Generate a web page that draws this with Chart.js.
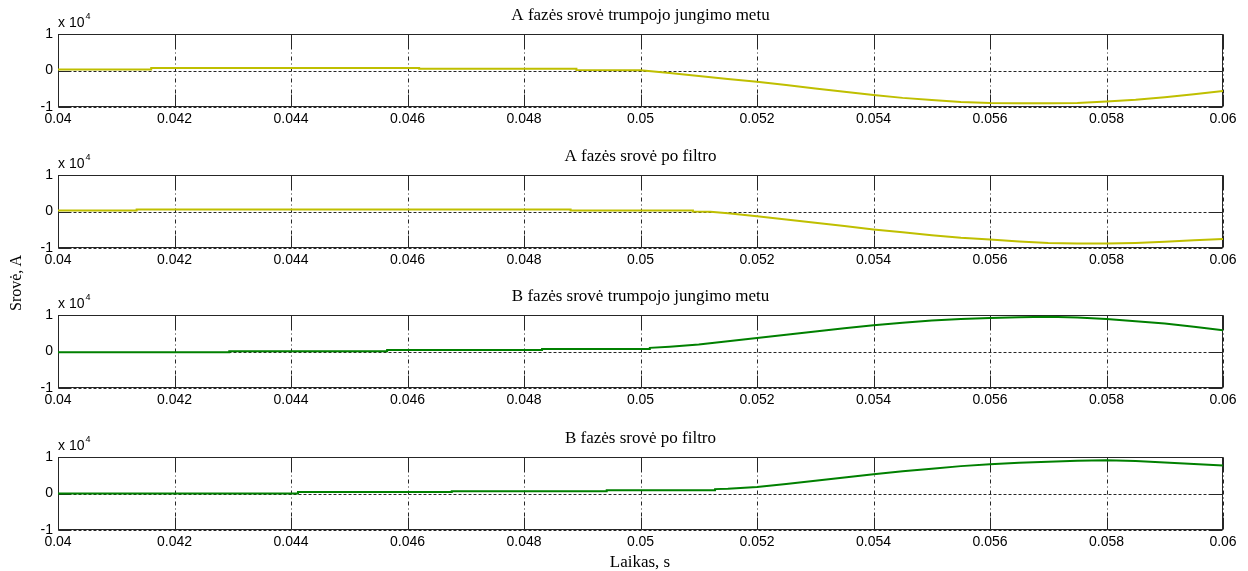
<!DOCTYPE html>
<html>
<head>
<meta charset="utf-8">
<script src="https://cdn.jsdelivr.net/npm/chart.js@4.4.0/dist/chart.umd.min.js"></script>
<style>
  body { margin: 0; background: #fff; }
  #wrap { position: relative; width: 1248px; height: 571px; overflow: hidden; }
  #wrap canvas { position: absolute; left: 0; }
  .mult { position: absolute; left: 58px; font: 14px 'Liberation Sans', Arial, sans-serif; line-height: 14px; color: #000; white-space: nowrap; }
  .mult span { font-size: 9px; position: relative; top: -8px; margin-left: 1px; }
  .ylab { position: absolute; left: 16px; top: 283px; font: 16px 'Liberation Serif', 'Times New Roman', serif; color: #000;
          transform: translate(-50%, -50%) rotate(-90deg); white-space: nowrap; }
  .xlab { position: absolute; left: 640px; top: 562px; font: 17px 'Liberation Serif', 'Times New Roman', serif; color: #000;
          transform: translate(-50%, -50%); white-space: nowrap; }
</style>
</head>
<body>
<div id="wrap">
  <canvas id="c1" width="1306" height="137"></canvas>
  <canvas id="c2" width="1306" height="137"></canvas>
  <canvas id="c3" width="1306" height="137"></canvas>
  <canvas id="c4" width="1306" height="137"></canvas>
  <div class="ylab">Srovė, A</div>
  <div class="xlab">Laikas, s</div>
</div>
<script>
// Trumpojo jungimo srovės (A), skaitytos iš paveikslo

const xTickValues = [0.04, 0.042, 0.044, 0.046, 0.048, 0.05, 0.052, 0.054, 0.056, 0.058, 0.06];
const yTickValues = [-10000, 0, 10000];

const titles = [
    'A fazės srovė trumpojo jungimo metu',
    'A fazės srovė po filtro',
    'B fazės srovė trumpojo jungimo metu',
    'B fazės srovė po filtro'
];

// A fazė, trumpojo jungimo metu
const timeA1 = [0.04, 0.0416, 0.0416, 0.0462, 0.0462, 0.0489, 0.0489, 0.0500, 0.0505, 0.0510, 0.0515, 0.0520,
    0.0525, 0.0530, 0.0535, 0.0540, 0.0545, 0.0550, 0.0555, 0.0560, 0.0565, 0.0570, 0.0575, 0.0580,
    0.0585, 0.0590, 0.0595, 0.0600];
const currA1 = [300, 300, 700, 700, 450, 450, 150, 100, -700, -1500, -2300, -3100,
    -4000, -4900, -5800, -6700, -7500, -8100, -8600, -8900, -9000, -9000, -8900, -8500,
    -8000, -7300, -6500, -5600];

// A fazė, po filtro
const timeA2 = [0.04, 0.04135, 0.04135, 0.0488, 0.0488, 0.0509, 0.0509, 0.0512, 0.0515, 0.0520,
    0.0525, 0.0530, 0.0535, 0.0540, 0.0545, 0.0550, 0.0555, 0.0560, 0.0565, 0.0570, 0.0575, 0.0580,
    0.0585, 0.0590, 0.0595, 0.0600];
const currA2 = [250, 250, 550, 550, 300, 300, 0, -100, -500, -1300,
    -2200, -3100, -4000, -4900, -5700, -6500, -7200, -7700, -8200, -8600, -8800, -8800,
    -8600, -8300, -7900, -7500];

// B fazė, trumpojo jungimo metu
const timeB1 = [0.04, 0.04294, 0.04294, 0.04565, 0.04565, 0.04831, 0.04831, 0.05016, 0.05016, 0.0505, 0.0510, 0.0515,
    0.0520, 0.0525, 0.0530, 0.0535, 0.0540, 0.0545, 0.0550, 0.0555, 0.0560, 0.0565, 0.0570, 0.0575,
    0.0580, 0.0585, 0.0590, 0.0595, 0.0600];
const currB1 = [-200, -200, 100, 100, 400, 400, 700, 700, 1000, 1300, 1900, 2800,
    3700, 4600, 5500, 6400, 7200, 7900, 8500, 8900, 9200, 9400, 9500, 9300,
    8900, 8300, 7700, 6800, 5800];

// B fazė, po filtro
const timeB2 = [0.04, 0.04412, 0.04412, 0.04676, 0.04676, 0.04942, 0.04942, 0.05128, 0.05128, 0.0515,
    0.0520, 0.0525, 0.0530, 0.0535, 0.0540, 0.0545, 0.0550, 0.0555, 0.0560, 0.0565, 0.0570, 0.0575,
    0.0580, 0.0585, 0.0590, 0.0595, 0.0600];
const currB2 = [0, 0, 400, 400, 600, 600, 900, 900, 1200, 1300,
    1800, 2600, 3500, 4400, 5300, 6100, 6800, 7500, 8000, 8400, 8700, 9000,
    9100, 8900, 8500, 8100, 7700];

const yellow = '#bfbf00';
const green = '#008000';

// MATLAB-style box, grid and inner tick marks
const matlabAxes = {
    id: 'matlabAxes',
    beforeDatasetsDraw(chart) {
        const { ctx, chartArea: a, scales: { x, y } } = chart;
        const left = Math.round(a.left) + 0.5, right = Math.round(a.right) - 0.5;
        const top = Math.round(a.top) + 0.5, bottom = Math.round(a.bottom) - 0.5;
        ctx.save();
        ctx.lineWidth = 1;
        ctx.strokeStyle = '#262626';

        ctx.setLineDash([4, 3, 1, 3]);
        xTickValues.forEach(v => {
            const px = Math.round(x.getPixelForValue(v)) + 0.5;
            ctx.beginPath(); ctx.moveTo(px, top); ctx.lineTo(px, bottom); ctx.stroke();
        });
        ctx.setLineDash([3, 2]);
        yTickValues.forEach(v => {
            const py = Math.round(y.getPixelForValue(v)) + 0.5;
            ctx.beginPath(); ctx.moveTo(left, py); ctx.lineTo(right, py); ctx.stroke();
        });

        ctx.setLineDash([]);
        const tl = 12;
        xTickValues.forEach(v => {
            const px = Math.round(x.getPixelForValue(v)) + 0.5;
            ctx.beginPath();
            ctx.moveTo(px, top); ctx.lineTo(px, top + tl);
            ctx.moveTo(px, bottom); ctx.lineTo(px, bottom - tl);
            ctx.stroke();
        });
        yTickValues.forEach(v => {
            const py = Math.round(y.getPixelForValue(v)) + 0.5;
            ctx.beginPath();
            ctx.moveTo(left, py); ctx.lineTo(left + tl, py);
            ctx.moveTo(right, py); ctx.lineTo(right - tl, py);
            ctx.stroke();
        });
        ctx.strokeRect(left, top, right - left, bottom - top);
        ctx.restore();
    }
};

const plotTops = [34, 175, 315, 457];
const tickFont = { family: "'Liberation Sans', Arial, sans-serif", size: 14 };

function makePanel(idx, times, values, color) {
    const canvas = document.getElementById('c' + (idx + 1));
    canvas.style.top = (plotTops[idx] - 34) + 'px';

    const mult = document.createElement('div');
    mult.className = 'mult';
    mult.style.top = (plotTops[idx] - 19) + 'px';
    mult.innerHTML = 'x 10<span>4</span>';
    document.getElementById('wrap').appendChild(mult);

    return new Chart(canvas.getContext('2d'), {
        type: 'line',
        data: {
            datasets: [{
                data: times.map((t, i) => ({ x: t, y: values[i] })),
                borderColor: color,
                borderWidth: 2,
                pointRadius: 0,
                tension: 0,
                fill: false
            }]
        },
        options: {
            responsive: false,
            animation: false,
            devicePixelRatio: 1,
            layout: { padding: { left: 0, right: 25, top: 0, bottom: 0 } },
            plugins: {
                legend: { display: false },
                tooltip: { enabled: false },
                title: {
                    display: true,
                    text: titles[idx],
                    color: '#000',
                    font: { family: "'Liberation Serif', 'Times New Roman', serif", size: 17, weight: 'normal', lineHeight: 1.2 },
                    padding: { top: 5, bottom: 8.6 }
                }
            },
            scales: {
                x: {
                    type: 'linear',
                    min: 0.04,
                    max: 0.06,
                    afterBuildTicks: s => { s.ticks = xTickValues.map(v => ({ value: v })); },
                    afterFit: s => { s.height = 30; },
                    grid: { display: false, drawTicks: false, tickLength: 0 },
                    border: { display: false },
                    ticks: {
                        color: '#000',
                        font: tickFont,
                        padding: 4,
                        maxRotation: 0,
                        autoSkip: false,
                        callback: v => String(Number(v.toFixed(3)))
                    }
                },
                y: {
                    min: -10000,
                    max: 10000,
                    afterBuildTicks: s => { s.ticks = yTickValues.map(v => ({ value: v })); },
                    afterFit: s => { s.width = 58; },
                    grid: { display: false, drawTicks: false, tickLength: 0 },
                    border: { display: false },
                    ticks: {
                        color: '#000',
                        font: tickFont,
                        padding: 5,
                        callback: v => String(v / 10000)
                    }
                },
                // empty right spacer (off-page) so the title centres over the plot
                spacer: {
                    type: 'linear',
                    position: 'right',
                    display: true,
                    afterFit: s => { s.width = 58; },
                    grid: { display: false },
                    border: { display: false },
                    ticks: { display: false }
                }
            }
        },
        plugins: [matlabAxes]
    });
}

makePanel(0, timeA1, currA1, yellow);
makePanel(1, timeA2, currA2, yellow);
makePanel(2, timeB1, currB1, green);
makePanel(3, timeB2, currB2, green);
</script>
</body>
</html>
